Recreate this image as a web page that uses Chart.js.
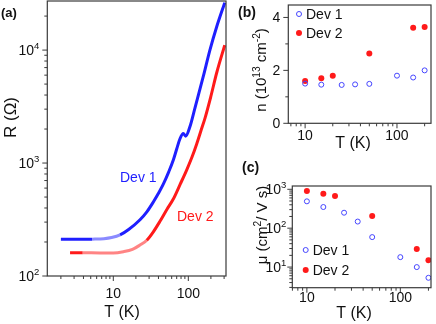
<!DOCTYPE html>
<html lang="en">
<head>
<meta charset="UTF-8">
<title>R(T), carrier density and mobility</title>
<script src="https://cdn.jsdelivr.net/npm/chart.js"></script>
<style>
  body { margin: 0; background: #fff; }
  #wrap { position: relative; width: 436px; height: 324px; }
  #wrap canvas { position: absolute; left: 0; top: 0; }
</style>
</head>
<body>
<div id="wrap">
  <canvas id="chartA" width="436" height="324"></canvas>
  <canvas id="chartB" width="436" height="324"></canvas>
  <canvas id="chartC" width="436" height="324"></canvas>
</div>
<script>
// (a) resistance vs temperature
const rtT1 = [2, 3.5, 5.2, 7.5, 9.5, 12.3, 16, 22.7, 28, 34, 40, 46.4, 55, 63.1, 70, 77.4, 85.7, 92.2, 105, 123, 158, 194, 239, 306];
const rtR1 = [211, 211, 212, 214, 219, 231, 258, 315, 370, 450, 540, 650, 840, 1064, 1330, 1640, 1830, 1730, 2094, 3100, 5810, 10000, 16100, 26300];
const rtT2 = [2.65, 3.9, 6.65, 10, 13.6, 18, 22.7, 27.9, 34, 41.9, 52, 63.1, 78, 95, 112, 129, 148, 167, 198, 239, 306];
const rtR2 = [161, 161, 160, 160, 164, 172, 188, 207, 245, 305, 390, 480, 650, 867, 1130, 1470, 1950, 2500, 3800, 6300, 11070];

// (b) carrier density, 10^13 cm^-2
const nT1 = [10, 15, 25, 35, 50, 100, 150, 200];
const nVal1 = [1.50, 1.46, 1.45, 1.47, 1.49, 1.80, 1.73, 2.00];
const nT2 = [10, 15, 20, 50, 150, 200];
const nVal2 = [1.60, 1.70, 1.80, 2.64, 3.61, 3.64];

// (c) mobility, cm^2/V s
const muT1 = [10, 15, 25, 35, 50, 100, 150, 200];
const muVal1 = [490, 350, 250, 148, 59, 18, 10, 5.3];
const muT2 = [10, 15, 20, 50, 150, 200];
const muVal2 = [900, 770, 670, 207, 29, 15];

// tick values and labels
const tMajor = [10, 100];
const tLabels = ['10', '100'];
const aTMinor = [2, 3, 4, 5, 6, 7, 8, 9, 20, 30, 40, 50, 60, 70, 80, 90, 200, 300];
const aRMajor = [100, 1000, 10000];
const aRLabels = ['10^{2}', '10^{3}', '10^{4}'];
const aRMinor = [200, 300, 400, 500, 600, 700, 800, 900, 2000, 3000, 4000, 5000, 6000, 7000, 8000, 9000, 20000];
const bcTMinor = [7, 8, 9, 20, 30, 40, 50, 60, 70, 80, 90, 200];
const nMajor = [0, 2, 4];
const nLabels = ['0', '2', '4'];
const nMinor = [1, 3];
const muMajor = [10, 100, 1000];
const muLabels = ['10^{1}', '10^{2}', '10^{3}'];
const muMinor = [3, 4, 5, 6, 7, 8, 9, 20, 30, 40, 50, 60, 70, 80, 90, 200, 300, 400, 500, 600, 700, 800, 900];

const BLUE = '#1f1fff';
const RED = '#ff1a1a';
const FAMILY = '"Liberation Sans", Arial, sans-serif';

const pts = (xs, ys) => xs.map((x, i) => ({ x: x, y: ys[i] }));

// text with ^{...} superscripts
function drawRich(ctx, str, x, y, size, align, bold) {
  const parts = str.split(/(\^\{[^}]*\})/).filter(Boolean).map(p =>
    p.startsWith('^{') ? { t: p.slice(2, -1), sup: true } : { t: p, sup: false });
  const font = s => (bold ? 'bold ' : '') + s + 'px ' + FAMILY;
  let w = 0;
  parts.forEach(p => {
    ctx.font = font(p.sup ? size * 0.68 : size);
    p.w = ctx.measureText(p.t).width;
    w += p.w;
  });
  let cx = align === 'right' ? x - w : align === 'center' ? x - w / 2 : x;
  ctx.textAlign = 'left';
  ctx.textBaseline = 'alphabetic';
  parts.forEach(p => {
    ctx.font = font(p.sup ? size * 0.68 : size);
    ctx.fillText(p.t, cx, p.sup ? y - size * 0.42 : y);
    cx += p.w;
  });
}

function marker(ctx, x, y, filled) {
  ctx.beginPath();
  if (filled) {
    ctx.arc(x, y, 3, 0, Math.PI * 2);
    ctx.fillStyle = RED;
    ctx.fill();
  } else {
    ctx.arc(x, y, 2.5, 0, Math.PI * 2);
    ctx.strokeStyle = '#4545ff';
    ctx.lineWidth = 1;
    ctx.stroke();
  }
}

// frame, outward ticks, tick labels, titles and legend
function panel(cfg) {
  return {
    id: 'panel',
    afterDraw(chart) {
      const { ctx, chartArea: a, scales: { x, y } } = chart;
      ctx.save();
      ctx.strokeStyle = '#3a3a3a';
      ctx.lineWidth = 1.2;
      ctx.strokeRect(a.left, a.top, a.right - a.left, a.bottom - a.top);
      ctx.lineWidth = 1;
      ctx.fillStyle = '#111';

      const tickX = (v, len) => {
        const p = x.getPixelForValue(v);
        ctx.beginPath(); ctx.moveTo(p, a.bottom); ctx.lineTo(p, a.bottom + len); ctx.stroke();
        return p;
      };
      const tickY = (v, len) => {
        const p = y.getPixelForValue(v);
        ctx.beginPath(); ctx.moveTo(a.left, p); ctx.lineTo(a.left - len, p); ctx.stroke();
        return p;
      };
      cfg.x.minor.forEach(v => tickX(v, 3));
      cfg.y.minor.forEach(v => tickY(v, 3));
      cfg.x.major.forEach((v, i) => {
        const p = tickX(v, 5);
        drawRich(ctx, cfg.x.labels[i], p, cfg.x.baseline, 14, 'center');
      });
      cfg.y.major.forEach((v, i) => {
        const p = tickY(v, 5);
        drawRich(ctx, cfg.y.labels[i], a.left - cfg.y.gap, p + 5, 14, 'right');
      });

      cfg.texts.forEach(t => {
        ctx.fillStyle = t.color || '#111';
        ctx.save();
        ctx.translate(t.x, t.y);
        if (t.rotate) ctx.rotate(-Math.PI / 2);
        drawRich(ctx, t.text, 0, 0, t.size, t.align || 'left', t.bold);
        ctx.restore();
      });

      (cfg.legend || []).forEach(l => {
        marker(ctx, l.x, l.y, l.filled);
        ctx.fillStyle = '#111';
        drawRich(ctx, l.text, l.x + 7, l.y + 5, 14, 'left');
      });
      ctx.restore();
    }
  };
}

function areaPadding(left, top, right, bottom) {
  return { left: left, top: top, right: 436 - right, bottom: 324 - bottom };
}

function baseOptions(pad, xr, yr, yType) {
  return {
    responsive: false,
    animation: false,
    devicePixelRatio: 1,
    layout: { padding: pad },
    plugins: { legend: { display: false }, tooltip: { enabled: false } },
    scales: {
      x: { type: 'logarithmic', display: false, min: xr[0], max: xr[1] },
      y: { type: yType, display: false, min: yr[0], max: yr[1] }
    }
  };
}

// panel (a)
new Chart(document.getElementById('chartA'), {
  type: 'scatter',
  data: {
    datasets: [
      {
        label: 'Dev 1', data: pts(rtT1, rtR1), showLine: true, pointRadius: 0,
        borderColor: BLUE, borderWidth: 3, cubicInterpolationMode: 'monotone',
        segment: { borderColor: c => (c.p0.parsed.x >= 5.2 && c.p1.parsed.x <= 12.3) ? 'rgba(60,60,255,0.6)' : undefined }
      },
      {
        label: 'Dev 2', data: pts(rtT2, rtR2), showLine: true, pointRadius: 0,
        borderColor: RED, borderWidth: 3, cubicInterpolationMode: 'monotone',
        segment: { borderColor: c => (c.p0.parsed.x >= 3.9 && c.p1.parsed.x <= 27.9) ? 'rgba(255,50,50,0.6)' : undefined }
      }
    ]
  },
  options: baseOptions(areaPadding(47.3, 1, 226, 276), [1.318, 318], [100, 27200], 'logarithmic'),
  plugins: [panel({
    x: { major: tMajor, labels: tLabels, minor: aTMinor, baseline: 297.5 },
    y: { major: aRMajor, labels: aRLabels, minor: aRMinor, gap: 8 },
    texts: [
      { text: '(a)', x: 1, y: 17, size: 13, bold: true },
      { text: 'R (Ω)', x: 16, y: 117.5, size: 17, rotate: true, align: 'center' },
      { text: 'T (K)', x: 122, y: 317, size: 16, align: 'center' },
      { text: 'Dev 1', x: 120, y: 182, size: 14, color: BLUE },
      { text: 'Dev 2', x: 177, y: 221, size: 14, color: RED }
    ]
  })]
});

const devSets = (t1, v1, t2, v2) => [
  { label: 'Dev 1', data: pts(t1, v1), pointRadius: 2.5, borderWidth: 1,
    borderColor: '#4545ff', backgroundColor: 'rgba(0,0,0,0)' },
  { label: 'Dev 2', data: pts(t2, v2), pointRadius: 3, borderWidth: 0,
    backgroundColor: RED, borderColor: RED }
];

// panel (b)
new Chart(document.getElementById('chartB'), {
  type: 'scatter',
  data: { datasets: devSets(nT1, nVal1, nT2, nVal2) },
  options: baseOptions(areaPadding(288.3, 2.3, 432.3, 123.3), [6.56, 234.6], [0, 4.47], 'linear'),
  plugins: [panel({
    x: { major: tMajor, labels: tLabels, minor: bcTMinor, baseline: 140 },
    y: { major: nMajor, labels: nLabels, minor: nMinor, gap: 8 },
    texts: [
      { text: '(b)', x: 238, y: 17, size: 14, bold: true },
      { text: 'n (10^{13} cm^{-2})', x: 266, y: 70, size: 15, rotate: true, align: 'center' },
      { text: 'T (K)', x: 353, y: 148, size: 16, align: 'center' }
    ],
    legend: [
      { text: 'Dev 1', x: 299, y: 14, filled: false },
      { text: 'Dev 2', x: 299, y: 33, filled: true }
    ]
  })]
});

// panel (c)
new Chart(document.getElementById('chartC'), {
  type: 'scatter',
  data: { datasets: devSets(muT1, muVal1, muT2, muVal2) },
  options: baseOptions(areaPadding(292.3, 186, 432.3, 287.7), [6.98, 213], [2.95, 1215], 'logarithmic'),
  plugins: [panel({
    x: { major: tMajor, labels: tLabels, minor: bcTMinor, baseline: 302 },
    y: { major: muMajor, labels: muLabels, minor: muMinor, gap: 6 },
    texts: [
      { text: '(c)', x: 242, y: 172, size: 14, bold: true },
      { text: 'μ (cm^{2}/ V s)', x: 267, y: 225, size: 15, rotate: true, align: 'center' },
      { text: 'T (K)', x: 354, y: 318, size: 16, align: 'center' }
    ],
    legend: [
      { text: 'Dev 1', x: 305.7, y: 250, filled: false },
      { text: 'Dev 2', x: 305.7, y: 270, filled: true }
    ]
  })]
});
</script>
</body>
</html>
